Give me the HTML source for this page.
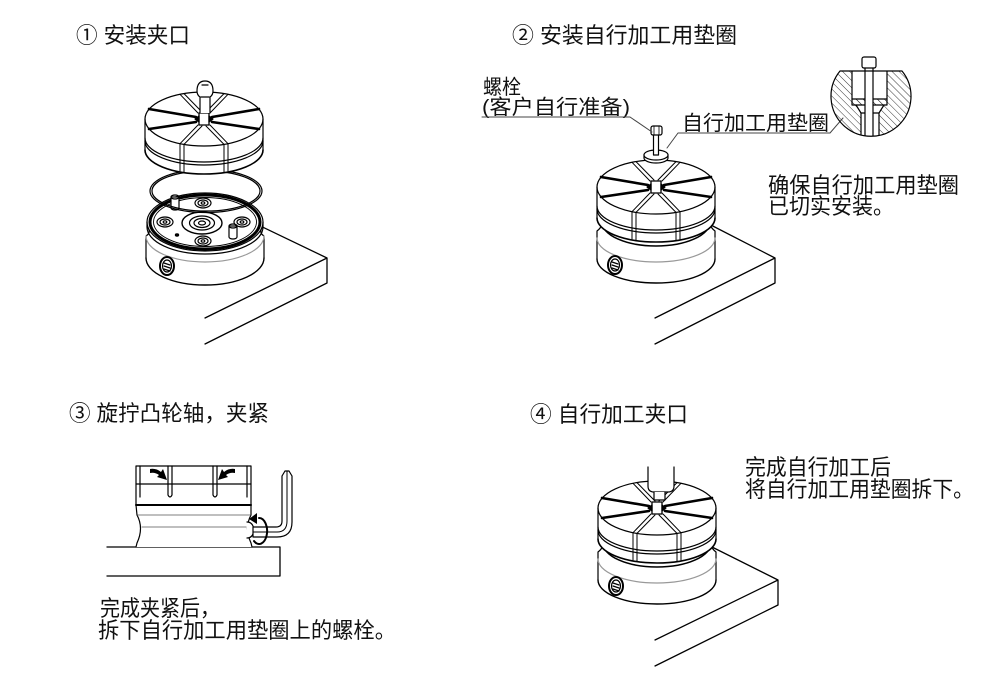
<!DOCTYPE html>
<html><head><meta charset="utf-8">
<style>
html,body{margin:0;padding:0;background:#fff;}
svg{display:block;}
text{font-family:"Liberation Sans","Noto Sans CJK SC",sans-serif;font-size:22px;fill:#111;}
text.s{font-size:20.5px;}
</style></head><body>
<svg width="1000" height="691" viewBox="0 0 1000 691" xmlns="http://www.w3.org/2000/svg">
<defs>
<pattern id="hatch" patternUnits="userSpaceOnUse" width="5" height="5" patternTransform="rotate(-45)">
  <line x1="0" y1="0" x2="0" y2="5" stroke="#222" stroke-width="0.9"/>
</pattern>
<clipPath id="seg"><path d="M840,71 L902,71 A40,40 0 1 1 840,71 Z"/></clipPath>
</defs>
<rect width="1000" height="691" fill="#fff"/>

<!-- ===== TEXT ===== -->
<text x="76" y="43" textLength="114" lengthAdjust="spacingAndGlyphs">① 安装夹口</text>
<text x="512" y="43" textLength="225" lengthAdjust="spacingAndGlyphs">② 安装自行加工用垫圈</text>
<text class="s" x="483" y="94" textLength="38" lengthAdjust="spacingAndGlyphs">螺栓</text>
<text class="s" x="482" y="114" textLength="148" lengthAdjust="spacingAndGlyphs">(客户自行准备)</text>
<text class="s" x="682" y="130" textLength="147" lengthAdjust="spacingAndGlyphs">自行加工用垫圈</text>
<text x="768" y="193" textLength="191" lengthAdjust="spacingAndGlyphs">确保自行加工用垫圈</text>
<text x="768" y="214" textLength="126" lengthAdjust="spacingAndGlyphs">已切实安装。</text>
<text x="69" y="421" textLength="200" lengthAdjust="spacingAndGlyphs">③ 旋拧凸轮轴，夹紧</text>
<text x="100" y="616" textLength="120" lengthAdjust="spacingAndGlyphs">完成夹紧后，</text>
<text x="98" y="638" textLength="298" lengthAdjust="spacingAndGlyphs">拆下自行加工用垫圈上的螺栓。</text>
<text x="530" y="422" textLength="158" lengthAdjust="spacingAndGlyphs">④ 自行加工夹口</text>
<text x="745" y="475" textLength="146" lengthAdjust="spacingAndGlyphs">完成自行加工后</text>
<text x="745" y="497" textLength="229" lengthAdjust="spacingAndGlyphs">将自行加工用垫圈拆下。</text>

<g fill="none" stroke="#000" stroke-width="1.2" stroke-linejoin="round" stroke-linecap="round">

<!-- ===== STAGE 1 ===== -->
<path d="M250,221 L327,258 V283 L205,344 M327,258 L205,318" stroke-width="1.3"/>
<!-- base -->
<g transform="translate(205,222)">
  <path fill="#fff" stroke="none" d="M-58,0 V5 Q-53,10 -59,14 V36 A59,27 0 0 0 59,36 V14 Q53,10 58,5 V0 A58,29 0 0 0 -58,0 Z"/>
  <ellipse rx="58" ry="29"/>
  <ellipse rx="55" ry="27" stroke-width="3"/>
  <ellipse rx="51.5" ry="24.5" stroke-width="0.9"/>
  <path d="M-58,0 V5 Q-53,10 -59,14 V36 M58,0 V5 Q53,10 59,14 V36"/>
  <path d="M-58,5 A58,27 0 0 0 58,5"/>
  <path d="M-59,14 A59,26 0 0 0 59,14" stroke="#999"/>
  <path d="M-59,36 A59,27 0 0 0 59,36" stroke-width="1.4"/>
  <g transform="translate(-2,-19)"><ellipse rx="8" ry="5"/><ellipse rx="5" ry="3"/><ellipse rx="1.8" ry="1.2"/></g>
  <g transform="translate(-40,0)"><ellipse rx="8" ry="5"/><ellipse rx="5" ry="3"/><ellipse rx="1.8" ry="1.2"/></g>
  <g transform="translate(37,0)"><ellipse rx="8" ry="5"/><ellipse rx="5" ry="3"/><ellipse rx="1.8" ry="1.2"/></g>
  <g transform="translate(-2,19)"><ellipse rx="8" ry="5"/><ellipse rx="5" ry="3"/><ellipse rx="1.8" ry="1.2"/></g>
  <g transform="translate(-3,1)"><ellipse rx="20" ry="11" stroke-width="1.4"/><ellipse rx="12.5" ry="7"/><ellipse rx="8" ry="4.5"/><ellipse rx="3.5" ry="2"/></g>
  <g transform="translate(-30,-19)"><path fill="#fff" d="M-4,-6 V5 A4,2 0 0 0 4,5 V-6 Z"/><ellipse cy="-6" rx="4" ry="2"/></g>
  <g transform="translate(28,10)"><path fill="#fff" d="M-4,-6 V5 A4,2 0 0 0 4,5 V-6 Z"/><ellipse cy="-6" rx="4" ry="2"/></g>
  <ellipse cx="-28" cy="13" rx="1.6" ry="1.1" fill="#000"/>
  <g transform="translate(-38,44)"><ellipse rx="7" ry="9" stroke-width="2" fill="#fff"/><ellipse rx="4.5" ry="6"/><path d="M-3,-3 L3,-1 M-3,0 L3,2 M-3,3 L3,5" stroke-width="1.2"/></g>
</g>
<!-- O-ring -->
<ellipse cx="206" cy="191" rx="56" ry="21.5"/>
<ellipse cx="206" cy="191" rx="54" ry="20"/>
<!-- jaws -->
<g transform="translate(204,119)">
  <path fill="#fff" d="M-59,0 V31 A59,24 0 0 0 59,31 V0 A59,27 0 0 0 -59,0 Z" stroke="none"/>
  <ellipse rx="59" ry="27"/>
  <path d="M-59,0 V31 M59,0 V31"/>
  <path d="M-59,19 A59,24 0 0 0 59,19 M-59,22 A59,24 0 0 0 59,22"/>
  <path d="M-59,31 A59,24 0 0 0 59,31" stroke-width="1.6"/>
  <path d="M-6,-6 L-24,-24.7 M-2,-7 L-20,-25.4 M6,-6 L24,-24.7 M2,-7 L20,-25.4 M-6,6 L-24,24.7 V52 M-2,7 L-20,25.4 V53 M6,6 L24,24.7 V52 M2,7 L20,25.4 V53" stroke-width="1"/>
  <path d="M-8,-2 L-55,-10 M-8,3 L-55,10 M8,-2 L55,-10 M8,3 L55,10" stroke-width="2.6"/>
  <path d="M-5,-6 H5 V6 H-5 Z" fill="#fff" stroke-width="1.3"/>
  <path d="M-9,0 L-5,-3 V3 Z M9,0 L5,-3 V3 Z" fill="#000"/>
</g>
<!-- knob -->
<path fill="#fff" d="M200,113 V97 Q197,95 197,91 Q197,81 205,81 Q213,81 213,91 Q213,95 210,97 V113"/>
<path d="M201,97 H209 M202,85 H208"/>

<!-- ===== STAGE 2 ===== -->
<path d="M705,222 L775,258 V283 L655,344 M775,258 L655,318" stroke-width="1.3"/>
<g transform="translate(656,187)">
  <path fill="#fff" stroke="none" d="M-57,31 Q-51,38 -59,44 V72 A59,24 0 0 0 59,72 V44 Q51,38 57,31 Z"/>
  <path d="M-57,31 Q-51,38 -59,44 V72 M57,31 Q51,38 59,44 V72"/>
  <path d="M-54,35 A54,24 0 0 0 54,35" stroke-width="1.5"/>
  <path d="M-59,51 A59,24 0 0 0 59,51" stroke="#999"/>
  <path d="M-59,72 A59,24 0 0 0 59,72" stroke-width="1.4"/>
  <g transform="translate(-41,78)"><ellipse rx="7" ry="9" stroke-width="2" fill="#fff"/><ellipse rx="4.5" ry="6"/><path d="M-3,-3 L3,-1 M-3,0 L3,2 M-3,3 L3,5" stroke-width="1.2"/></g>
  <path fill="#fff" d="M-59,0 V31 A59,24 0 0 0 59,31 V0 A59,27 0 0 0 -59,0 Z" stroke="none"/>
  <ellipse rx="59" ry="27"/>
  <path d="M-59,0 V31 M59,0 V31"/>
  <path d="M-59,19 A59,24 0 0 0 59,19 M-59,22 A59,24 0 0 0 59,22"/>
  <path d="M-59,31 A59,24 0 0 0 59,31" stroke-width="1.6"/>
  <path d="M-6,-6 L-24,-24.7 M-2,-7 L-20,-25.4 M6,-6 L24,-24.7 M2,-7 L20,-25.4 M-6,6 L-24,24.7 V52 M-2,7 L-20,25.4 V53 M6,6 L24,24.7 V52 M2,7 L20,25.4 V53" stroke-width="1"/>
  <path d="M-8,-2 L-55,-10 M-8,3 L-55,10 M8,-2 L55,-10 M8,3 L55,10" stroke-width="2.6"/>
  <path d="M-5,-6 H5 V6 H-5 Z" fill="#fff" stroke-width="1.3"/>
  <path d="M-9,0 L-5,-3 V3 Z M9,0 L5,-3 V3 Z" fill="#000"/>
</g>
<!-- washer & bolt -->
<path fill="#fff" d="M644,155 V158 A12,5 0 0 0 668,158 V155"/>
<ellipse cx="656" cy="155" rx="12" ry="5" fill="#fff"/>
<rect x="653.5" y="134" width="5" height="21" fill="#fff"/>
<rect x="651" y="126" width="11" height="9" rx="2" fill="#fff"/>
<path d="M654,126 V135 M659,126 V135" stroke-width="0.8"/>
<!-- leaders -->
<path d="M482,117 H630 L652,132" stroke="#444" stroke-width="1"/>
<path d="M667,148 L678,133 H830 L843,118" stroke="#444" stroke-width="1"/>
<!-- detail circle -->
<g clip-path="url(#seg)">
  <rect x="828" y="55" width="86" height="85" fill="url(#hatch)" stroke="none"/>
  <rect x="852" y="71" width="35" height="28" fill="#fff" stroke="none"/>
  <path d="M856,105 L861,113 V140 H879 V113 L884,105 Z" fill="#fff" stroke="none"/>
  <path d="M852,71 V99 M887,71 V99"/>
  <path d="M856,105 L861,113 M884,105 L879,113 M861,113 H879 M861,113 V140 M879,113 V140"/>
  <rect x="852" y="99" width="35" height="6" fill="url(#hatch)"/>
  <rect x="865" y="67" width="8" height="75" fill="#fff"/>
</g>
<path d="M840,71 L902,71 A40,40 0 1 1 840,71 Z"/>
<rect x="862" y="57" width="14" height="11" rx="2" fill="#fff"/>
<path d="M865,68 V71 M873,68 V71"/>

<!-- ===== STAGE 3 ===== -->
<path d="M107,547 H280 V576 H107" stroke-width="1.3"/>
<path fill="#fff" stroke="none" d="M136,466 H251 V515 Q244,528 251,543 L252,547 H136 L137,543 Q144,528 137,515 L136,505 Z"/>
<path d="M136,466 H251 V505 L251,515 Q244,528 251,543 L252,547 M136,466 V505 L137,515 Q144,528 137,543 L136,547"/>
<path d="M140,466 V497 M247,466 V497"/>
<path d="M136,484 H251"/>
<path d="M136,505 H251" stroke-width="2"/>
<path d="M138,515 H250 M142,527 H246" stroke="#999"/>
<path d="M168,466 V495 Q170,499 172,495 V466 M213,466 V495 Q215,499 217,495 V466"/>
<path d="M150,469 Q156,468 161,472 L163,469 L167,480 L157,477 L159,475 Q155,472 150,473 Z" fill="#000" stroke="none"/>
<path d="M235,469 Q229,468 224,472 L222,469 L218,480 L228,477 L226,475 Q230,472 235,473 Z" fill="#000" stroke="none"/>
<!-- screw head -->
<path fill="#fff" d="M247,522 Q253,522 254,530 Q253,538 247,538"/>
<!-- hex key -->
<path fill="#fff" d="M282,476 L285,471 H289 L292,476 V522 Q292,537 277,537 H253 V527 H276 Q282,527 282,521 Z"/>
<path d="M287,471 V521 Q287,532 277,532 H253" stroke-width="1"/>
<!-- rotation arrow -->
<path d="M259,518 A8,13 0 1 1 254,541" stroke-width="2"/>
<path d="M249,519 L257,513 L257,524 Z" fill="#000" stroke="none"/>

<!-- ===== STAGE 4 ===== -->
<path d="M706,544 L778,580 V605 L655,666 M778,580 L655,640" stroke-width="1.3"/>
<g transform="translate(657,508)">
  <path fill="#fff" stroke="none" d="M-57,31 Q-51,38 -59,44 V72 A59,24 0 0 0 59,72 V44 Q51,38 57,31 Z"/>
  <path d="M-57,31 Q-51,38 -59,44 V72 M57,31 Q51,38 59,44 V72"/>
  <path d="M-54,35 A54,24 0 0 0 54,35" stroke-width="1.5"/>
  <path d="M-59,51 A59,24 0 0 0 59,51" stroke="#999"/>
  <path d="M-59,72 A59,24 0 0 0 59,72" stroke-width="1.4"/>
  <g transform="translate(-41,78)"><ellipse rx="7" ry="9" stroke-width="2" fill="#fff"/><ellipse rx="4.5" ry="6"/><path d="M-3,-3 L3,-1 M-3,0 L3,2 M-3,3 L3,5" stroke-width="1.2"/></g>
  <path fill="#fff" d="M-59,0 V31 A59,24 0 0 0 59,31 V0 A59,27 0 0 0 -59,0 Z" stroke="none"/>
  <ellipse rx="59" ry="27"/>
  <path d="M-59,0 V31 M59,0 V31"/>
  <path d="M-59,19 A59,24 0 0 0 59,19 M-59,22 A59,24 0 0 0 59,22"/>
  <path d="M-59,31 A59,24 0 0 0 59,31" stroke-width="1.6"/>
  <path d="M-6,-6 L-24,-24.7 M-2,-7 L-20,-25.4 M6,-6 L24,-24.7 M2,-7 L20,-25.4 M-6,6 L-24,24.7 V52 M-2,7 L-20,25.4 V53 M6,6 L24,24.7 V52 M2,7 L20,25.4 V53" stroke-width="1"/>
  <path d="M-8,-2 L-55,-10 M-8,3 L-55,10 M8,-2 L55,-10 M8,3 L55,10" stroke-width="2.6"/>
  <path d="M-5,-6 H5 V6 H-5 Z" fill="#fff" stroke-width="1.3"/>
  <path d="M-9,0 L-5,-3 V3 Z M9,0 L5,-3 V3 Z" fill="#000"/>
</g>
<!-- tool -->
<path fill="#fff" d="M648,467 V486 Q648,492 654,492 H668 Q674,492 674,486 V467"/>
<path fill="#fff" d="M654,492 V500 H665 V492"/>

</g>
</svg>
</body></html>
